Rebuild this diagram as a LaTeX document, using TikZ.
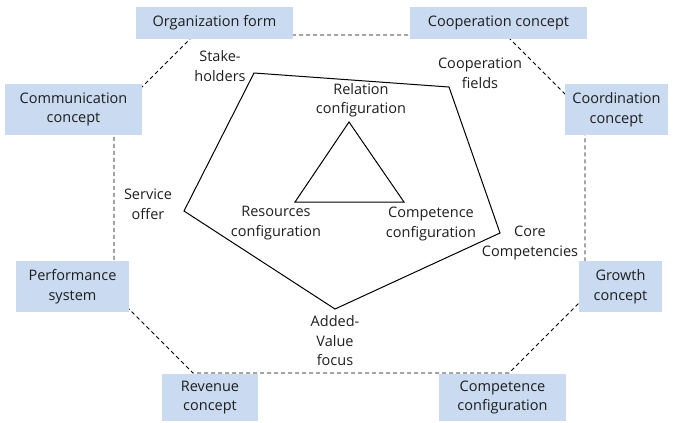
\documentclass[tikz,border=0pt]{standalone}
\usepackage{fontspec}
\setmainfont{Open Sans}
\definecolor{boxblue}{HTML}{C9DAF1}
\definecolor{txt}{HTML}{1E1E1E}
\begin{document}
\begin{tikzpicture}[x=1bp,y=-1bp,
  box/.style={fill=boxblue,draw=none,text=txt,align=center,inner sep=0pt,
    font=\fontsize{14.5bp}{19.5bp}\selectfont},
  lbl/.style={text=txt,align=center,inner sep=0pt,
    font=\fontsize{14.5bp}{19.5bp}\selectfont},
  oct/.style={line width=0.8bp,dash pattern=on 4bp off 3bp},
  solid line/.style={line width=1bp,line join=miter}]
\useasboundingbox (0,0) rectangle (676,422);
% octagon vertices
\coordinate (o1) at (194,35);
\coordinate (o2) at (506,35);
\coordinate (o3) at (585,114);
\coordinate (o4) at (585,297);
\coordinate (o5) at (509,373);
\coordinate (o6) at (193,373);
\coordinate (o7) at (114,294);
\coordinate (o8) at (114,115);
\draw[oct] (o1) -- (o2) -- (o3) -- (o4) -- (o5) -- (o6) -- (o7) -- (o8) -- cycle;
% boxes
\node[box,minimum width=157bp,minimum height=32bp] (org) at (214.5,23) {Organization form};
\node[box,minimum width=177bp,minimum height=32bp] (coop) at (498.5,23) {Cooperation concept};
\node[box,minimum width=137bp,minimum height=51bp] (comm) at (73.5,109.5) {Communication\\concept};
\node[box,minimum width=103bp,minimum height=51bp] (coord) at (616.5,109.5) {Coordination\\concept};
\node[box,minimum width=113bp,minimum height=51bp] (perf) at (72.5,286.5) {Performance\\system};
\node[box,minimum width=83bp,minimum height=51bp] (growth) at (620.5,286.5) {Growth\\concept};
\node[box,minimum width=96bp,minimum height=47bp] (rev) at (210,397.5) {Revenue\\concept};
\node[box,minimum width=127bp,minimum height=47bp] (cconf) at (502.5,397.5) {Competence\\configuration};
% pentagon
\coordinate (p1) at (254,73);
\coordinate (p2) at (449,87);
\coordinate (p3) at (500,233);
\coordinate (p4) at (335,309);
\coordinate (p5) at (184,211);
\draw[solid line] (p1) -- (p2) -- (p3) -- (p4) -- (p5) -- cycle;
% triangle
\coordinate (t1) at (349,122);
\coordinate (t2) at (404,202);
\coordinate (t3) at (295,202);
\draw[solid line] (t1) -- (t2) -- (t3) -- cycle;
% labels
\node[lbl] (stake) at (220,66) {Stake-\\holders};
\node[lbl] (relc) at (361,100) {Relation\\configuration};
\node[lbl] (cfields) at (480,73) {Cooperation\\fields};
\node[lbl] (serv) at (148,204) {Service\\offer};
\node[lbl] (resc) at (276,223) {Resources\\configuration};
\node[lbl] (compc) at (431,224) {Competence\\configuration};
\node[lbl] (core) at (530,243) {Core\\Competencies};
\node[lbl] (added) at (335,341) {Added-\\Value\\focus};
\end{tikzpicture}
\end{document}
